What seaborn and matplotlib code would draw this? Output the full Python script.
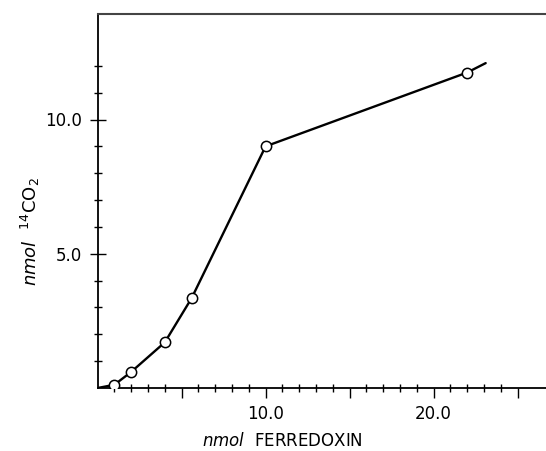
import matplotlib
matplotlib.use("Agg")
import matplotlib.pyplot as plt
import seaborn as sns
import pandas as pd
from matplotlib.ticker import FixedLocator, FixedFormatter

# ---- data ----
ferredoxin = [0.0, 1.0, 2.0, 4.0, 5.6, 10.0, 22.0, 23.1]
co2 = [0.0, 0.12, 0.6, 1.7, 3.35, 9.0, 11.75, 12.1]
measured = [False, True, True, True, True, True, True, False]

x_major = [5, 10, 15, 20, 25]
x_major_labels = ["", "10.0", "", "20.0", ""]
y_major = [5, 10]
y_major_labels = ["5.0", "10.0"]
x_minor = [v for v in range(1, 26) if v % 5 != 0]
y_minor = [v for v in range(1, 13) if v % 5 != 0]

df = pd.DataFrame({"x": ferredoxin, "y": co2, "m": measured})
pts = df[df["m"]]

sns.set_style("ticks")
plt.rcParams["font.family"] = ["DejaVu Sans"]
plt.rcParams["text.color"] = "black"
plt.rcParams["xtick.labelcolor"] = "black"
plt.rcParams["ytick.labelcolor"] = "black"

W, H = 546, 451
fig = plt.figure(figsize=(W / 100, H / 100), dpi=100)
x0, y0 = 97.6, 388.0
ax = fig.add_axes([x0 / W, (H - y0) / H, (W - x0) / W, (y0 - 14) / H])

sns.lineplot(data=df, x="x", y="y", sort=False, ax=ax, color="black",
             linewidth=1.7, zorder=2)
sns.scatterplot(data=pts, x="x", y="y", ax=ax, s=55, marker="o",
                facecolor="white", edgecolor="black", linewidth=1.1, zorder=3)

ax.set_xlim(0, (W - x0) / 16.8)
ax.set_ylim(0, (y0 - 14) / 26.85)

ax.xaxis.set_major_locator(FixedLocator(x_major))
ax.xaxis.set_major_formatter(FixedFormatter(x_major_labels))
ax.xaxis.set_minor_locator(FixedLocator(x_minor))
ax.yaxis.set_major_locator(FixedLocator(y_major))
ax.yaxis.set_major_formatter(FixedFormatter(y_major_labels))
ax.yaxis.set_minor_locator(FixedLocator(y_minor))

ax.tick_params(axis="x", which="major", direction="out", length=7, width=1.0,
               labelsize=12, pad=5, color="black", labelcolor="black")
ax.tick_params(axis="x", which="minor", direction="inout", length=6, width=1.0,
               color="black")
ax.tick_params(axis="y", which="major", direction="inout", length=11, width=1.0,
               labelsize=12, pad=6, color="black", labelcolor="black")
ax.tick_params(axis="y", which="minor", direction="inout", length=6, width=1.0,
               color="black")

for s in ["left", "bottom"]:
    ax.spines[s].set_color("black")
    ax.spines[s].set_linewidth(1.3)
ax.spines["top"].set_color("#444444")
ax.spines["top"].set_linewidth(1.5)
ax.spines["right"].set_visible(False)

ax.set_xlabel("")
ax.set_ylabel("")

fig.text(30 / W, 1 - 232 / H, r"$\mathit{nmol}$  $^{14}\mathrm{CO}_2$",
         rotation=90, ha="center", va="center", fontsize=13, color="black")
fig.text(282 / W, 1 - 441 / H, r"$\mathit{nmol}$  FERREDOXIN",
         ha="center", va="center", fontsize=12, color="black")

fig.savefig("out.png", dpi=100)
